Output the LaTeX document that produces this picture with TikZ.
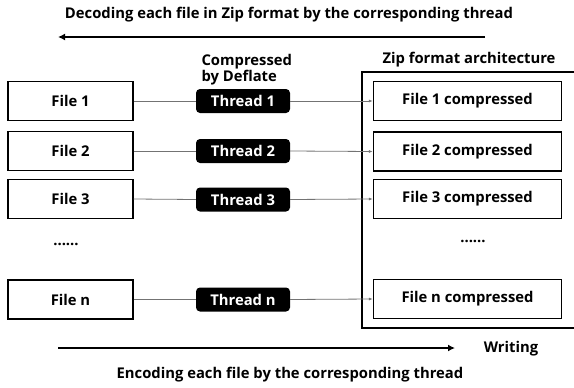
\documentclass[tikz,border=0pt]{standalone}
\usepackage{fontspec}
\setmainfont{Open Sans}
\usetikzlibrary{arrows.meta}
\begin{document}
\begin{tikzpicture}[x=1pt,y=-1pt,
  font=\bfseries\fontsize{14.8}{16}\selectfont,
  filebox/.style={draw,line width=1.3pt,minimum width=125pt,minimum height=39pt,inner sep=0pt},
  compbox/.style={draw,line width=1.3pt,minimum width=188pt,minimum height=39pt,inner sep=0pt},
  threadbox/.style={fill=black,text=white,rounded corners=4pt,minimum width=94pt,minimum height=24pt,inner sep=0pt},
  link/.style={draw=black!55,line width=0.8pt},
  linkarrow/.style={link,-{Latex[length=4pt,width=3pt]}},
  bigarrow/.style={line width=2.4pt,-{Latex[length=7pt,width=7pt]}}
]
\useasboundingbox (0,0) rectangle (574,388);

% headings
\node (dectext) at (289,15) {Decoding each file in Zip format by the corresponding thread};
\coordinate (decR) at (485,37);
\coordinate (decL) at (58,37);
\draw[bigarrow] (decR) -- (decL);

\node[align=left,anchor=west] (deflate) at (198,70) {Compressed\\by Deflate};
\node (ziptext) at (469,60) {Zip format architecture};

% Zip container (open on the right)
\draw[line width=1.3pt] (576,72) -- (362,72) -- (362,328) -- (576,328);

% left column
\node[filebox] (f1) at (70.5,101) {File 1};
\node[filebox] (f2) at (70.5,151) {File 2};
\node[filebox] (f3) at (70.5,199) {File 3};
\node (fdots) at (66,244) {......};
\node[filebox] (fn) at (70.5,299.5) {File n};

% threads
\node[threadbox] (t1) at (243,101) {Thread 1};
\node[threadbox] (t2) at (243,151) {Thread 2};
\node[threadbox] (t3) at (243,199.5) {Thread 3};
\node[threadbox] (tn) at (243,299.5) {Thread n};

% compressed entries
\node[compbox] (c1) at (467.5,101) {File 1 compressed};
\node[compbox] (c2) at (467.5,151.5) {File 2 compressed};
\node[compbox] (c3) at (467.5,199) {File 3 compressed};
\node (cdots) at (473,241) {......};
\node[compbox] (cn) at (467.5,299) {File n compressed};

% connectors
\foreach \a/\b/\c in {f1/t1/c1,f2/t2/c2,f3/t3/c3,fn/tn/cn}{
  \draw[link] (\a.east) -- (\b.west);
  \draw[linkarrow] (\b.east) -- (\c.west);
}

% bottom
\coordinate (encL) at (58,348);
\coordinate (encR) at (455,348);
\draw[bigarrow] (encL) -- (encR);
\node (writing) at (511,349) {Writing};
\node (enctext) at (290,375) {Encoding each file by the corresponding thread};
\end{tikzpicture}
\end{document}
